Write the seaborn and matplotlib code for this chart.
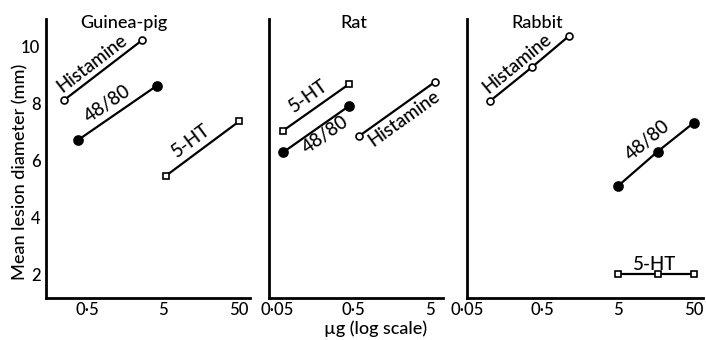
import numpy as np
import pandas as pd
import matplotlib
matplotlib.use("Agg")
import matplotlib.pyplot as plt
import seaborn as sns
from matplotlib.ticker import FixedLocator, NullLocator, FixedFormatter

# ---------------- data ----------------
species = ["Guinea-pig", "Rat", "Rabbit"]
compounds = ["Histamine", "48/80", "5-HT"]

gp_histamine_dose = [0.25, 2.65]
gp_histamine_diam = [8.14, 10.24]
gp_4880_dose = [0.38, 4.1]
gp_4880_diam = [6.73, 8.63]
gp_5ht_dose = [5.45, 50]
gp_5ht_diam = [5.47, 7.38]

rat_histamine_dose = [0.59, 5.8]
rat_histamine_diam = [6.87, 8.78]
rat_4880_dose = [0.06, 0.437]
rat_4880_diam = [6.30, 7.93]
rat_5ht_dose = [0.06, 0.437]
rat_5ht_diam = [7.06, 8.70]

rb_histamine_dose = [0.101, 0.358, 1.12]
rb_histamine_diam = [8.10, 9.28, 10.39]
rb_4880_dose = [5, 16.5, 50]
rb_4880_diam = [5.12, 6.32, 7.34]
rb_5ht_dose = [5, 16.5, 50]
rb_5ht_diam = [2.0, 2.0, 2.0]

x_tick_values = {"Guinea-pig": [0.5, 5, 50],
                 "Rat": [0.05, 0.5, 5],
                 "Rabbit": [0.05, 0.5, 5, 50]}
x_tick_text = {0.05: "0·05", 0.5: "0·5", 5: "5", 50: "50"}
y_tick_values = [2, 4, 6, 8, 10]
y_tick_labels = ["2", "4", "6", "8", "10"]

series = {
    ("Guinea-pig", "Histamine"): (gp_histamine_dose, gp_histamine_diam),
    ("Guinea-pig", "48/80"): (gp_4880_dose, gp_4880_diam),
    ("Guinea-pig", "5-HT"): (gp_5ht_dose, gp_5ht_diam),
    ("Rat", "Histamine"): (rat_histamine_dose, rat_histamine_diam),
    ("Rat", "48/80"): (rat_4880_dose, rat_4880_diam),
    ("Rat", "5-HT"): (rat_5ht_dose, rat_5ht_diam),
    ("Rabbit", "Histamine"): (rb_histamine_dose, rb_histamine_diam),
    ("Rabbit", "48/80"): (rb_4880_dose, rb_4880_diam),
    ("Rabbit", "5-HT"): (rb_5ht_dose, rb_5ht_diam),
}

rows = []
for (sp, cp), (d, v) in series.items():
    for di, vi in zip(d, v):
        rows.append({"species": sp, "compound": cp, "dose": di, "diam": vi})
df = pd.DataFrame(rows)

# ---------------- style / layout ----------------
sns.set_theme(style="white")
plt.rcParams["font.family"] = ["Lato", "DejaVu Sans"]
plt.rcParams["font.weight"] = "medium"
FS_TICK = 12
FS_LABEL = 13
FS_INLINE = 13.5

marker_style = {
    "Histamine": dict(marker="o", markerfacecolor="white", markersize=5.0),
    "48/80": dict(marker="o", markerfacecolor="black", markersize=6.5),
    "5-HT": dict(marker="s", markerfacecolor="white", markersize=4.6),
}

W, H = 706, 340
ax_px = {"Guinea-pig": (46, 250), "Rat": (269, 443), "Rabbit": (467, 703)}
top_px, bot_px = 18.5, 298
xlims = {"Guinea-pig": (0.143, 69.8), "Rat": (0.039, 7.3), "Rabbit": (0.05, 65.7)}
ylim = (1.17, 11.0)

label_pos = {
    ("Guinea-pig", "Histamine"): (0.57, 9.43),
    ("Guinea-pig", "48/80"): (0.93, 8.0),
    ("Guinea-pig", "5-HT"): (11.6, 6.69),
    ("Rat", "5-HT"): (0.126, 8.27),
    ("Rat", "48/80"): (0.211, 6.90),
    ("Rat", "Histamine"): (2.28, 7.49),
    ("Rabbit", "Histamine"): (0.229, 9.43),
    ("Rabbit", "48/80"): (12.3, 6.72),
    ("Rabbit", "5-HT"): (15.1, 2.36),
}
title_pos = {"Guinea-pig": 0.382, "Rat": 0.49, "Rabbit": 0.297}

fig = plt.figure(figsize=(W / 100, H / 100), dpi=100)
fig.patch.set_facecolor("white")

for sp in species:
    l, r = ax_px[sp]
    ax = fig.add_axes([l / W, (H - bot_px) / H, (r - l) / W, (bot_px - top_px) / H])
    ax.set_facecolor("white")
    ax.set_xscale("log")
    sub = df[df["species"] == sp]
    for cp in compounds:
        s = sub[sub["compound"] == cp]
        sns.lineplot(data=s, x="dose", y="diam", ax=ax, color="black",
                     linewidth=1.6, markeredgecolor="black", markeredgewidth=1.2,
                     estimator=None, sort=True, **marker_style[cp])
    ax.set_xlim(*xlims[sp])
    ax.set_ylim(*ylim)
    ax.set_xlabel("")
    ax.set_ylabel("")
    for side in ["top", "right"]:
        ax.spines[side].set_visible(False)
    for side in ["left", "bottom"]:
        ax.spines[side].set_linewidth(2.0)
        ax.spines[side].set_color("black")
    ticks = x_tick_values[sp]
    ax.xaxis.set_major_locator(FixedLocator(ticks))
    ax.xaxis.set_major_formatter(FixedFormatter([x_tick_text[t] for t in ticks]))
    ax.xaxis.set_minor_locator(NullLocator())
    ax.yaxis.set_major_locator(FixedLocator(y_tick_values))
    ax.tick_params(axis="both", which="major", direction="in", length=5,
                   width=1.6, color="black", labelsize=FS_TICK, labelcolor="black", pad=4)
    ax.tick_params(axis="x", pad=3)
    if sp == "Guinea-pig":
        ax.set_yticklabels(y_tick_labels)
    else:
        ax.set_yticklabels([])
    ax.text(title_pos[sp], 0.985, sp, transform=ax.transAxes, ha="center",
            va="center", fontsize=FS_LABEL, color="black")

    fig.canvas.draw()
    for cp in compounds:
        d, v = series[(sp, cp)]
        p0 = ax.transData.transform((d[0], v[0]))
        p1 = ax.transData.transform((d[-1], v[-1]))
        ang = np.degrees(np.arctan2(p1[1] - p0[1], p1[0] - p0[0]))
        lx, ly = label_pos[(sp, cp)]
        ax.text(lx, ly, cp, rotation=ang, rotation_mode="anchor", ha="center",
                va="center", fontsize=FS_INLINE, color="black")

fig.text(20 / W, 1 - 172 / H, "Mean lesion diameter (mm)", rotation=90,
         ha="center", va="center", fontsize=FS_LABEL, color="black")
fig.text(376 / W, 1 - 329 / H, "µg (log scale)", ha="center", va="center",
         fontsize=FS_LABEL, color="black")

fig.savefig("out.png", dpi=100, facecolor="white")
